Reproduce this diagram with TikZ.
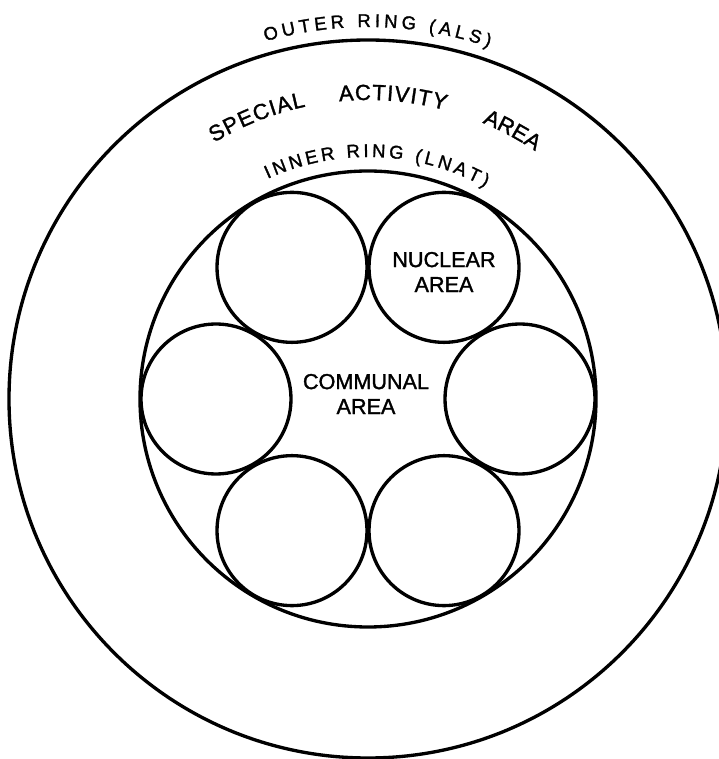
\documentclass[tikz,border=0pt]{standalone}
\usepackage{fontspec}
\setmainfont{Liberation Sans}[FakeBold=1.5]
\usetikzlibrary{decorations.text}

\tikzset{
  ringline/.style={line width=1.9pt},
  cell/.style={circle, draw, line width=1.9pt, minimum size=3cm, inner sep=0pt},
  areatext/.style={align=center, font=\fontsize{12.3}{14.2}\selectfont},
  arclabel/.style={decorate, decoration={text along path, text align=fit to path, text={#1}}}
}

\begin{document}
\begin{tikzpicture}[x=0.02cm,y=0.02cm]
        \useasboundingbox (-368,-360) rectangle (350,399);
        %% Rings
        \coordinate (c) at (0,0);
        \draw[ringline] (c) circle[radius=359];
        \draw[ringline] (c) circle[radius=228];
        %% Areas
        \foreach \a/\n in {0/e,60/ne,120/nw,180/w,240/sw,300/se}
            \node[cell] (area-\n) at (\a:152) {};
        \node[areatext] (nuclear) at (76,127) {NUCLEAR\\AREA};
        \node[areatext] (communal) at (-2,5) {COMMUNAL\\AREA};
        %% Ring labels
        \path[arclabel={|\fontsize{10.5}{12}\selectfont|OUTER RING (ALS)}]
            (106:372) arc[start angle=106, end angle=71, radius=372];
        \path[arclabel={|\fontsize{10.5}{12}\selectfont|INNER RING (LNAT)}]
            (114.5:242) arc[start angle=114.5, end angle=61, radius=242];
        %% Special activity area
        \path[arclabel={|\fontsize{12.5}{14}\selectfont|SPECIAL}]
            (121:299) arc[start angle=121, end angle=102, radius=299];
        \path[arclabel={|\fontsize{12.5}{14}\selectfont|ACTIVITY}]
            (95.5:299) arc[start angle=95.5, end angle=75, radius=299];
        \path[arclabel={|\fontsize{12.5}{14}\selectfont|AREA}]
            (67.5:299) arc[start angle=67.5, end angle=56, radius=299];
\end{tikzpicture}
\end{document}
